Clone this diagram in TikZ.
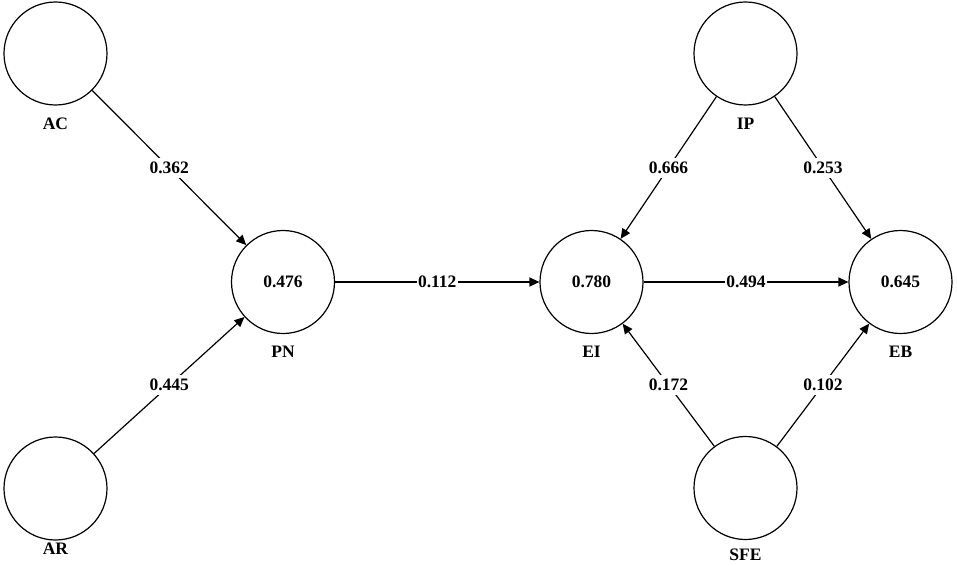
\documentclass[tikz,border=0pt]{standalone}
\usepackage{fontspec}
\setmainfont{Liberation Serif}
\usetikzlibrary{arrows.meta,positioning}

\begin{document}
\begin{tikzpicture}[
	> = {Triangle[length=10pt,width=9pt]}, % arrow head style
	on grid, % distances from centre to centre
	line width = 1.2pt, % line style
	font = \fontsize{17.5}{21}\selectfont\bfseries,
	LV/.style={circle, draw=black, minimum size=103pt, inner sep=0pt},
	W/.style={fill=white, inner xsep=1.5pt, inner ysep=4pt}, % coefficient on the path
	LB/.style={below = 70pt of #1},                       % name under the circle
	]

	\useasboundingbox (-283pt,-283pt) rectangle (674pt,282pt);

	% Latent variables and their relative positions
	\node[LV] (PN) {0.476};
	\node[LV] (EI) [right = 308.5pt of PN] {0.780};
	\node[LV] (EB) [right = 309pt of EI] {0.645};
	\node[LV] (AC) [above left = 228.5pt and 227.5pt of PN] {};
	\node[LV] (AR) [below left = 206.5pt and 227.5pt of PN] {};
	\node[LV] (IP) [above = 228.5pt of EI, xshift=154pt] {};
	\node[LV] (SFE) [below = 206pt of EI, xshift=154pt] {};

	% Names
	\node (ACn) [LB=AC] {AC};
	\node (ARn) [below = 60pt of AR] {AR};
	\node (PNn) [LB=PN] {PN};
	\node (EIn) [LB=EI] {EI};
	\node (EBn) [LB=EB] {EB};
	\node (IPn) [LB=IP] {IP};
	\node (SFEn) [below = 67pt of SFE] {SFE};

	% Paths connecting nodes
	\path[->] (AC) edge node[W] {0.362} (PN);
	\path[->] (AR) edge node[W] {0.445} (PN);
	\path[->] (PN) edge node[W] {0.112} (EI);
	\path[->] (EI) edge node[W] {0.494} (EB);
	\path[->] (IP) edge node[W] {0.666} (EI);
	\path[->] (IP) edge node[W] {0.253} (EB);
	\path[->] (SFE) edge node[W] {0.172} (EI);
	\path[->] (SFE) edge node[W] {0.102} (EB);
\end{tikzpicture}
\end{document}
